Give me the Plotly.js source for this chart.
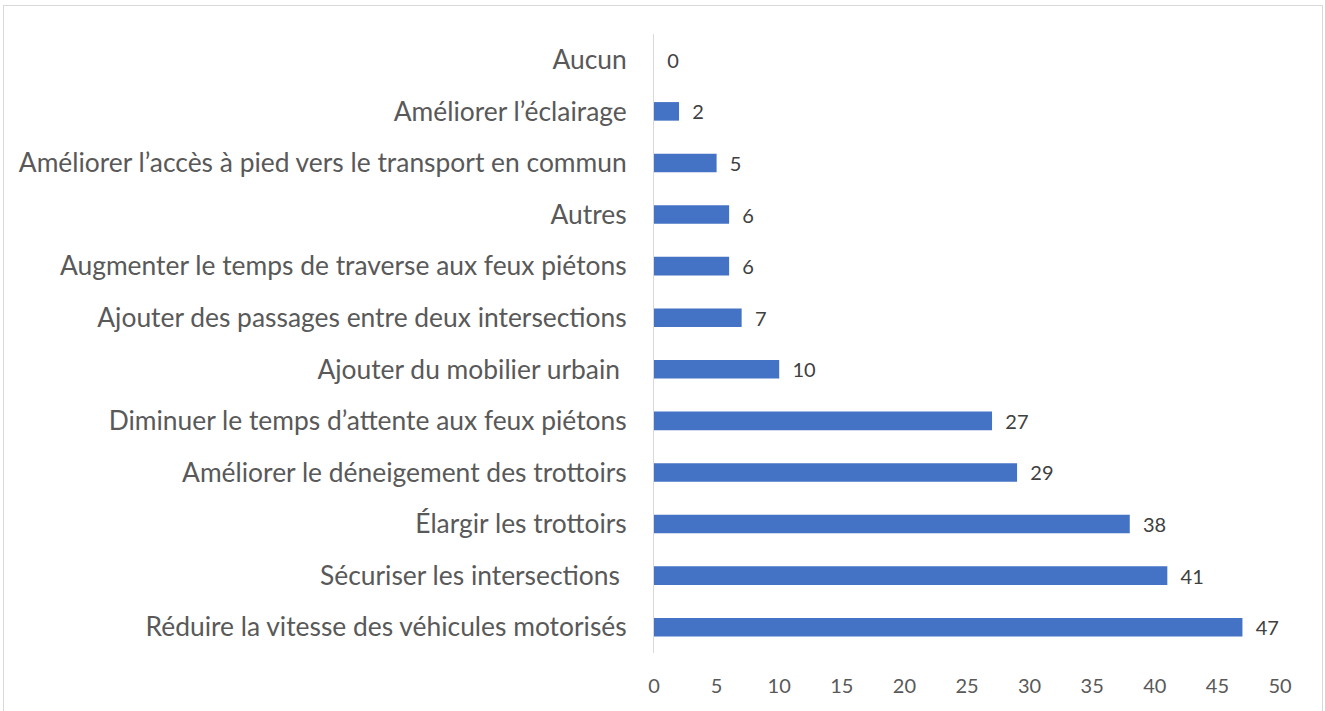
<!DOCTYPE html>
<html><head><meta charset="utf-8">
<script src="https://cdn.plot.ly/plotly-3.0.1.min.js"></script>
<style>
html,body{margin:0;padding:0;background:#fff;}
#frame{position:absolute;left:3px;top:5px;width:1318px;height:710px;border:1px solid #d9d9d9;border-bottom:none;}
#chart{position:absolute;left:0;top:0;width:1325px;height:711px;}
</style></head>
<body><div id="frame"></div><div id="chart"></div>
<script>
const categories = [
  "Réduire la vitesse des véhicules motorisés",
  "Sécuriser les intersections ",
  "Élargir les trottoirs",
  "Améliorer le déneigement des trottoirs",
  "Diminuer le temps d’attente aux feux piétons",
  "Ajouter du mobilier urbain ",
  "Ajouter des passages entre deux intersections",
  "Augmenter le temps de traverse aux feux piétons",
  "Autres",
  "Améliorer l’accès à pied vers le transport en commun",
  "Améliorer l’éclairage",
  "Aucun"
];
const values = [47, 41, 38, 29, 27, 10, 7, 6, 6, 5, 2, 0];
const xTicks = [0, 5, 10, 15, 20, 25, 30, 35, 40, 45, 50];

const fontFam = "Lato, 'Open Sans', sans-serif";
const trace = {
  type: 'bar', orientation: 'h',
  y: categories, x: values,
  marker: {color: '#4472C4'},
  text: values.map(v => String(v)),
  texttemplate: '  %{text}',
  textposition: 'outside',
  constraintext: 'none',
  cliponaxis: false,
  textfont: {family: fontFam, size: 20, color: '#404040'},
  hoverinfo: 'none'
};
const layout = {
  width: 1325, height: 711,
  margin: {l: 654, r: 45, t: 34, b: 58},
  paper_bgcolor: 'rgba(0,0,0,0)', plot_bgcolor: 'rgba(0,0,0,0)',
  bargap: 0.64,
  showlegend: false,
  font: {family: fontFam, color: '#595959'},
  xaxis: {
    range: [0, 50], tickvals: xTicks, ticktext: xTicks.map(String),
    showgrid: false, zeroline: false, showline: false,
    ticks: 'outside', ticklen: 15, tickcolor: 'rgba(0,0,0,0)',
    tickfont: {family: fontFam, size: 20, color: '#595959'},
    fixedrange: true
  },
  yaxis: {
    type: 'category', categoryorder: 'array', categoryarray: categories,
    showgrid: false, zeroline: false, showline: true, linecolor: '#d9d9d9', linewidth: 1,
    ticks: 'outside', ticklen: 21, tickcolor: 'rgba(0,0,0,0)',
    tickfont: {family: fontFam, size: 26.4, color: '#595959'},
    fixedrange: true
  }
};
Plotly.newPlot('chart', [trace], layout, {displayModeBar: false, staticPlot: true});
</script></body></html>
